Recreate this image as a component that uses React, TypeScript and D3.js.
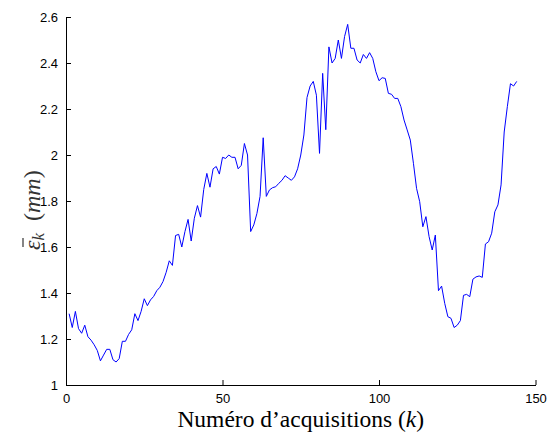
import { useEffect, useRef } from "react";
import * as d3 from "d3";

// mean error per acquisition, k = 1..144
const errorValues = [
  1.31, 1.25, 1.32, 1.245, 1.225, 1.26, 1.21, 1.195, 1.175, 1.15,
  1.105, 1.13, 1.155, 1.155, 1.11, 1.1, 1.115, 1.19, 1.19, 1.22,
  1.24, 1.31, 1.28, 1.32, 1.375, 1.345, 1.37, 1.385, 1.41, 1.425,
  1.45, 1.49, 1.54, 1.52, 1.65, 1.655, 1.6, 1.667, 1.72, 1.626,
  1.725, 1.78, 1.73, 1.85, 1.92, 1.86, 1.94, 1.95, 1.917, 1.99,
  1.985, 2.0, 1.99, 1.99, 1.94, 1.955, 2.05, 2.0, 1.667, 1.696,
  1.746, 1.82, 2.075, 1.82, 1.848, 1.858, 1.862, 1.877, 1.89, 1.91,
  1.9, 1.89, 1.905, 1.94, 2.0, 2.087, 2.25, 2.3, 2.32, 2.26,
  2.007, 2.355, 2.11, 2.47, 2.4, 2.42, 2.5, 2.42, 2.515, 2.568,
  2.464, 2.464, 2.413, 2.4, 2.437, 2.42, 2.445, 2.42, 2.362, 2.323,
  2.336, 2.333, 2.268, 2.264, 2.246, 2.246, 2.21, 2.152, 2.109, 2.065,
  1.964, 1.855, 1.797, 1.688, 1.732, 1.645, 1.587, 1.652, 1.41, 1.43,
  1.355, 1.297, 1.29, 1.25, 1.26, 1.28, 1.39, 1.394, 1.384, 1.46,
  1.47, 1.474, 1.468, 1.613, 1.623, 1.66, 1.753, 1.783, 1.87, 2.1,
  2.21, 2.31, 2.3, 2.32,
];
const acquisitions = errorValues.map((_, i) => i + 1);

const xTicks = [0, 50, 100, 150];
const yTicks = [1, 1.2, 1.4, 1.6, 1.8, 2, 2.2, 2.4, 2.6];

const W = 549;
const H = 434;
const M = { left: 66, right: 13.5, top: 17, bottom: 49 };
const serif = "'Liberation Serif', 'DejaVu Serif', serif";

const App = () => {
  const svgRef = useRef<SVGSVGElement>(null);

  const x = d3.scaleLinear().domain([0, 150]).range([M.left, W - M.right]);
  const y = d3.scaleLinear().domain([1, 2.6]).range([H - M.bottom, M.top]);

  useEffect(() => {
    const svg = d3.select(svgRef.current);
    svg.selectAll(".axis").remove();

    const xAxis = d3
      .axisBottom(x)
      .tickValues(xTicks)
      .tickFormat(d3.format("d"))
      .tickSizeInner(-5)
      .tickSizeOuter(0)
      .tickPadding(9);
    const yAxis = d3
      .axisLeft(y)
      .tickValues(yTicks)
      .tickFormat((d) => String(d))
      .tickSizeInner(-5)
      .tickSizeOuter(0)
      .tickPadding(8);

    const gx = svg
      .append("g")
      .attr("class", "axis")
      .attr("transform", `translate(0,${H - M.bottom})`)
      .call(xAxis);
    const gy = svg
      .append("g")
      .attr("class", "axis")
      .attr("transform", `translate(${M.left},0)`)
      .call(yAxis);

    [gx, gy].forEach((g) => {
      g.selectAll("path").attr("stroke", "#000").attr("stroke-width", 1);
      g.selectAll("line").attr("stroke", "#000");
      g.selectAll("text")
        .attr("fill", "#000")
        .style("font-family", "Arial, 'Liberation Sans', sans-serif")
        .style("font-size", "13px");
    });
    gx.selectAll("text").attr("dy", "0.71em");
  }, []);

  const line = d3
    .line<number>()
    .x((_, i) => x(acquisitions[i]))
    .y((d) => y(d));

  return (
    <svg
      ref={svgRef}
      width={W}
      height={H}
      style={{ position: "absolute", left: 0, top: 0, background: "#fff" }}
    >
      <path
        d={line(errorValues) ?? ""}
        fill="none"
        stroke="#0000ff"
        strokeWidth={1}
      />
      <text
        x={(M.left + W - M.right) / 2}
        y={427}
        textAnchor="middle"
        fontFamily={serif}
        fontSize={23.5}
      >
        Numéro d’acquisitions (<tspan fontStyle="italic">k</tspan>)
      </text>
      <g transform="translate(40,201) rotate(-90)">
        <text x={-49} textAnchor="start" fontFamily={serif} fontSize={24} fill="#333">
          <tspan fontStyle="italic">ε</tspan>
          <tspan fontStyle="italic" fontSize={17} dy={4}>k</tspan>
          <tspan dy={-4} dx={12}>(</tspan>
          <tspan fontStyle="italic">mm</tspan>
          <tspan>)</tspan>
        </text>
        {/* macron over epsilon */}
        <line x1={-46} x2={-37} y1={-17} y2={-17} stroke="#333" strokeWidth={1.2} />
      </g>
    </svg>
  );
};

export default App;
